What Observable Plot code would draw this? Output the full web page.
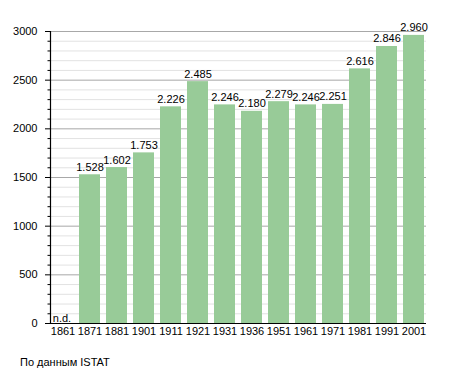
<!DOCTYPE html>
<html>
<head>
<meta charset="utf-8">
<script src="https://cdn.jsdelivr.net/npm/d3@7"></script>
<script src="https://cdn.jsdelivr.net/npm/@observablehq/plot@0.6"></script>
<style>
  html, body { margin: 0; padding: 0; background: #fff; }
  #chart { font-family: "Liberation Sans", Arial, sans-serif; }
  .caption { font: 11px "Liberation Sans", Arial, sans-serif; color: #000; margin: 11px 0 0 20px; }
</style>
</head>
<body>
<div id="chart"></div>
<script>
const years = ["1861","1871","1881","1901","1911","1921","1931","1936","1951","1961","1971","1981","1991","2001"];
const population = [null,1528,1602,1753,2226,2485,2246,2180,2279,2246,2251,2616,2846,2960];
const majorTicks = [0,500,1000,1500,2000,2500,3000];
const minorTicks = d3.range(0, 3001, 100).filter(v => v % 500 !== 0);
const missingLabel = "n.d.";
const captionText = "По данным ISTAT";

const data = years.map((y, i) => ({year: y, value: population[i]}));
const present = data.filter(d => d.value != null);
const missing = data.filter(d => d.value == null);
const fmt = v => String(v).replace(/\B(?=(\d{3})+(?!\d))/g, ".");

const chart = Plot.plot({
  width: 455,
  height: 345,
  marginTop: 31,
  marginBottom: 22,
  marginLeft: 50,
  marginRight: 29,
  style: {fontFamily: "Liberation Sans, Arial, sans-serif", fontSize: "11px", color: "#000", background: "#fff"},
  x: {domain: years, paddingInner: 0.24, paddingOuter: 0, label: null},
  y: {domain: [0, 3000], label: null},
  marks: [
    Plot.ruleY(minorTicks, {stroke: "#e2e2e2", strokeWidth: 1}),
    Plot.ruleY(majorTicks, {stroke: "#a8a8a8", strokeWidth: 1}),
    Plot.barY(present, {x: "year", y: "value", fill: "#98cb98"}),
    Plot.text(present, {x: "year", y: "value", text: d => fmt(d.value), lineAnchor: "bottom", dy: -4, fill: "#000", fontSize: 11}),
    Plot.text(missing, {x: "year", y: () => 0, text: () => missingLabel, lineAnchor: "bottom", dy: -2, dx: -1, fill: "#000", fontSize: 11}),
    Plot.axisY({ticks: majorTicks, tickSize: 5, tickPadding: 8, tickFormat: d => String(d), stroke: "#000", label: null}),
    Plot.axisY({ticks: minorTicks, tickSize: 2.5, tickFormat: () => "", stroke: "#000", label: null}),
    Plot.axisX({tickSize: 0, tickPadding: 4, label: null}),
    Plot.ruleY([0], {stroke: "#000", strokeWidth: 1.2}),
    Plot.frame({anchor: "left", stroke: "#000", strokeWidth: 1.2})
  ]
});
document.getElementById("chart").appendChild(chart);
const cap = document.createElement("div");
cap.className = "caption";
cap.textContent = captionText;
document.body.appendChild(cap);
</script>
</body>
</html>
